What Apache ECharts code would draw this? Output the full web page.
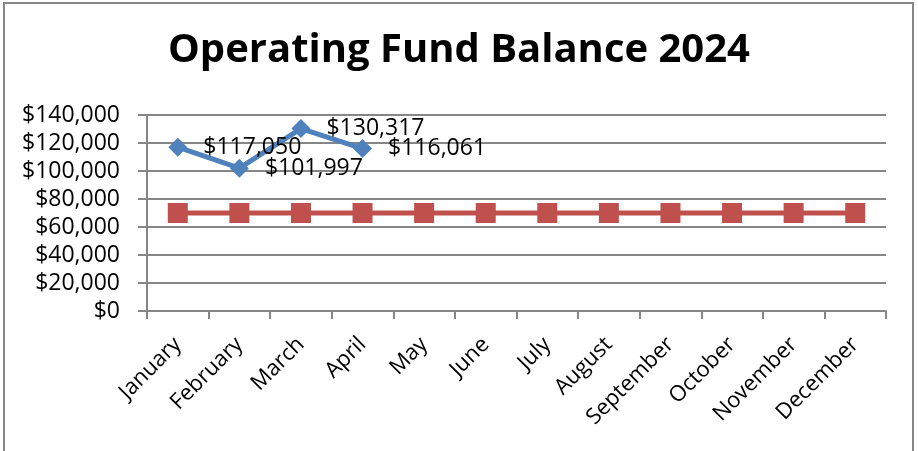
<!DOCTYPE html>
<html>
<head>
<meta charset="utf-8">
<script src="https://cdn.jsdelivr.net/npm/echarts@6/dist/echarts.min.js"></script>
<style>
    html, body { margin: 0; padding: 0; background: #fff; }
    #balanceChart { width: 918px; height: 451px; }
</style>
</head>
<body>
<div id="balanceChart" class="chart"></div>
<script>
// 月份
const months = ['January', 'February', 'March', 'April', 'May', 'June',
    'July', 'August', 'September', 'October', 'November', 'December'];
// 实际余额（只有前四个月）
const actualBalance = [117050, 101997, 130317, 116061];
// 最低余额线
const minimumBalance = [70000, 70000, 70000, 70000, 70000, 70000,
    70000, 70000, 70000, 70000, 70000, 70000];
// y轴刻度
const yMin = 0;
const yMax = 140000;
const yStep = 20000;

function money(v) {
    return '$' + Number(v).toLocaleString('en-US');
}

function initBalanceChart() {
    const chart = echarts.init(document.getElementById('balanceChart'));
    const font = 'Open Sans';
    const option = {
        animation: false,
        title: {
            text: 'Operating Fund Balance 2024',
            left: 'center',
            top: 26,
            textStyle: {
                fontFamily: font,
                fontWeight: 'bold',
                fontSize: 40,
                color: '#000'
            }
        },
        graphic: [
            {
                type: 'rect',
                shape: { x: 4, y: 3, width: 909, height: 470 },
                style: { fill: 'none', stroke: '#868686', lineWidth: 2 }
            }
        ],
        grid: {
            left: 147,
            right: 32,
            top: 115,
            bottom: 140
        },
        xAxis: {
            type: 'category',
            data: months,
            boundaryGap: true,
            axisLine: { lineStyle: { color: '#868686', width: 2 } },
            axisTick: { show: true, length: 8, lineStyle: { color: '#868686', width: 2 } },
            axisLabel: {
                rotate: 45,
                margin: 30,
                fontFamily: font,
                fontSize: 22,
                color: '#000'
            }
        },
        yAxis: {
            type: 'value',
            min: yMin,
            max: yMax,
            interval: yStep,
            axisLine: { show: true, lineStyle: { color: '#868686', width: 2 } },
            axisTick: { show: true, length: 9, lineStyle: { color: '#868686', width: 2 } },
            splitLine: { lineStyle: { color: '#868686', width: 2 } },
            axisLabel: {
                margin: 27,
                fontFamily: font,
                fontSize: 23,
                color: '#000',
                formatter: money
            }
        },
        series: [
            {
                name: 'Minimum',
                type: 'line',
                data: minimumBalance,
                symbol: 'rect',
                symbolSize: 20,
                lineStyle: { color: '#C0504D', width: 5 },
                itemStyle: { color: '#C0504D' }
            },
            {
                name: 'Balance',
                type: 'line',
                data: actualBalance,
                symbol: 'diamond',
                symbolSize: 19,
                lineStyle: { color: '#4F81BD', width: 5 },
                itemStyle: { color: '#4F81BD' },
                label: {
                    show: true,
                    position: 'right',
                    distance: 16,
                    fontFamily: font,
                    fontSize: 23,
                    color: '#000',
                    formatter: function (p) { return money(p.value); }
                }
            }
        ]
    };
    chart.setOption(option);
}

document.addEventListener('DOMContentLoaded', function () {
    initBalanceChart();
});
</script>
</body>
</html>
